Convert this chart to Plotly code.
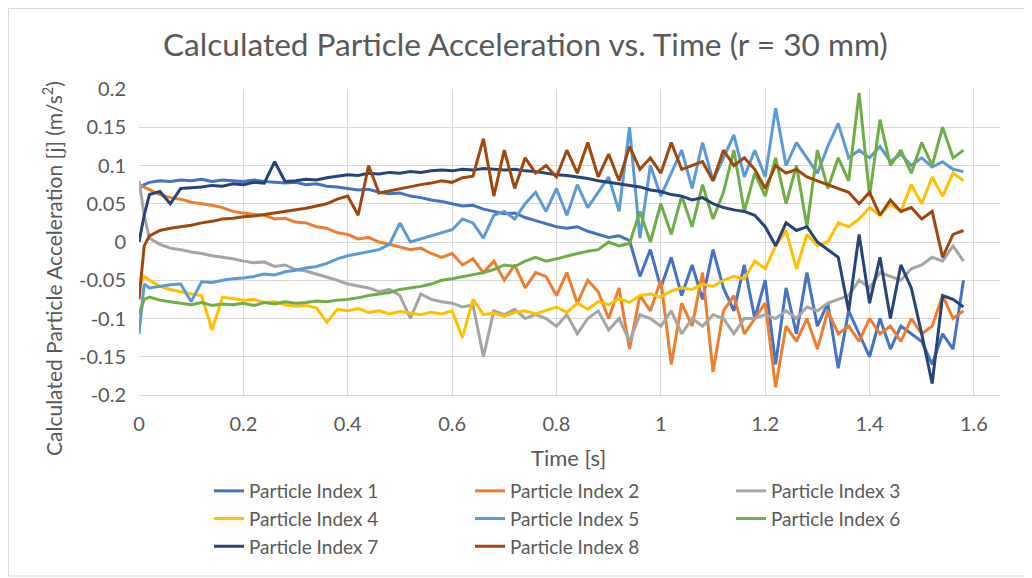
import plotly.graph_objects as go

TIME = [0.00, 0.01, 0.02, 0.04, 0.06, 0.08, 0.10, 0.12, 0.14, 0.16,
        0.18, 0.20, 0.22, 0.24, 0.26, 0.28, 0.30, 0.32, 0.34, 0.36,
        0.38, 0.40, 0.42, 0.44, 0.46, 0.48, 0.50, 0.52, 0.54, 0.56,
        0.58, 0.60, 0.62, 0.64, 0.66, 0.68, 0.70, 0.72, 0.74, 0.76,
        0.78, 0.80, 0.82, 0.84, 0.86, 0.88, 0.90, 0.92, 0.94, 0.96,
        0.98, 1.00, 1.02, 1.04, 1.06, 1.08, 1.10, 1.12, 1.14, 1.16,
        1.18, 1.20, 1.22, 1.24, 1.26, 1.28, 1.30, 1.32, 1.34, 1.36,
        1.38, 1.40, 1.42, 1.44, 1.46, 1.48, 1.50, 1.52, 1.54, 1.56,
        1.58]

P1 = [0.07, 0.075, 0.078, 0.08, 0.079, 0.081, 0.08, 0.082, 0.079, 0.081,
      0.08, 0.079, 0.081, 0.079, 0.078, 0.077, 0.078, 0.075, 0.076, 0.073,
      0.072, 0.07, 0.068, 0.069, 0.065, 0.063, 0.064, 0.06, 0.058, 0.055,
      0.053, 0.05, 0.047, 0.048, 0.043, 0.04, 0.037, 0.038, 0.032, 0.028,
      0.024, 0.02, 0.018, 0.02, 0.014, 0.01, 0.006, 0.008, 0.002, -0.045,
      -0.01, -0.06, -0.02, -0.07, -0.03, -0.075, -0.01, -0.06, -0.09, -0.03,
      -0.1, -0.05, -0.16, -0.06, -0.12, -0.04, -0.11, -0.08, -0.165, -0.09,
      -0.12, -0.15, -0.1, -0.14, -0.11, -0.12, -0.13, -0.16, -0.12, -0.14,
      -0.05]

P2 = [0.075, 0.072, 0.068, 0.062, 0.058, 0.056, 0.052, 0.05, 0.048, 0.045,
      0.04, 0.038, 0.036, 0.035, 0.03, 0.031, 0.026, 0.025, 0.02, 0.018,
      0.012, 0.01, 0.004, 0.006, 0.0, -0.003, -0.006, -0.01, -0.008, -0.015,
      -0.02, -0.015, -0.03, -0.022, -0.04, -0.025, -0.05, -0.03, -0.06, -0.04,
      -0.045, -0.07, -0.04, -0.08, -0.05, -0.065, -0.1, -0.06, -0.14, -0.07,
      -0.09, -0.05, -0.16, -0.08, -0.11, -0.04, -0.17, -0.09, -0.07, -0.12,
      -0.1, -0.08, -0.19, -0.11, -0.13, -0.1, -0.14, -0.09, -0.12, -0.11,
      -0.13, -0.1, -0.12, -0.11, -0.13, -0.1, -0.12, -0.11, -0.07, -0.1,
      -0.09]

P3 = [0.08, 0.035, 0.005, -0.003, -0.008, -0.01, -0.013, -0.015, -0.018, -0.02,
      -0.022, -0.025, -0.027, -0.026, -0.032, -0.03, -0.036, -0.038, -0.042, -0.045,
      -0.05, -0.055, -0.058, -0.06, -0.065, -0.062, -0.07, -0.1, -0.068, -0.075,
      -0.078, -0.08, -0.085, -0.082, -0.15, -0.09, -0.095, -0.088, -0.1, -0.095,
      -0.1, -0.11, -0.095, -0.12, -0.1, -0.09, -0.115, -0.1, -0.13, -0.095,
      -0.1, -0.11, -0.09, -0.12, -0.1, -0.11, -0.095, -0.1, -0.12, -0.1,
      -0.1, -0.095, -0.1, -0.09, -0.1, -0.085, -0.09, -0.08, -0.075, -0.07,
      -0.05, -0.06, -0.04, -0.045, -0.05, -0.035, -0.03, -0.02, -0.025, -0.005,
      -0.025]

P4 = [-0.06, -0.045, -0.05, -0.058, -0.062, -0.065, -0.068, -0.07, -0.115, -0.072,
      -0.074, -0.076, -0.075, -0.079, -0.078, -0.082, -0.084, -0.083, -0.086, -0.105,
      -0.088, -0.09, -0.087, -0.092, -0.09, -0.094, -0.091, -0.093, -0.095, -0.092,
      -0.094, -0.09, -0.125, -0.075, -0.095, -0.093, -0.097, -0.092, -0.09, -0.094,
      -0.09, -0.085, -0.092, -0.08, -0.088, -0.078, -0.082, -0.074, -0.079, -0.07,
      -0.068, -0.072, -0.064, -0.06, -0.062, -0.055, -0.058, -0.05, -0.045, -0.048,
      -0.025, -0.035, -0.005, 0.015, -0.035, 0.01, -0.005, 0.0, 0.025, 0.02,
      0.03, 0.045, 0.035, 0.05, 0.04, 0.075, 0.05, 0.085, 0.06, 0.09,
      0.08]

P5 = [-0.12, -0.055, -0.06, -0.058, -0.056, -0.055, -0.078, -0.052, -0.053, -0.05,
      -0.048, -0.047, -0.045, -0.042, -0.043, -0.039, -0.037, -0.034, -0.032, -0.028,
      -0.022, -0.018, -0.015, -0.012, -0.01, -0.003, 0.025, 0.0, 0.004, 0.008,
      0.012, 0.016, 0.03, 0.025, 0.005, 0.035, 0.04, 0.03, 0.05, 0.065,
      0.04, 0.07, 0.035, 0.075, 0.045, 0.065, 0.085, 0.04, 0.15, 0.005,
      0.1, 0.06, 0.09, 0.12, 0.07, 0.13, 0.08, 0.11, 0.14, 0.085,
      0.12, 0.085, 0.175, 0.1, 0.13, 0.11, 0.09, 0.125, 0.155, 0.11,
      0.12, 0.11, 0.125, 0.105, 0.115, 0.1, 0.11, 0.098, 0.105, 0.095,
      0.092]

P6 = [-0.095, -0.075, -0.072, -0.076, -0.078, -0.08, -0.082, -0.079, -0.083, -0.081,
      -0.082, -0.08, -0.083, -0.079, -0.081, -0.078, -0.08, -0.079, -0.077, -0.078,
      -0.076, -0.075, -0.073, -0.07, -0.068, -0.066, -0.062, -0.06, -0.058, -0.055,
      -0.05, -0.048, -0.045, -0.042, -0.04, -0.036, -0.03, -0.032, -0.025, -0.02,
      -0.025, -0.022, -0.018, -0.015, -0.012, -0.01, 0.0, -0.005, -0.002, 0.04,
      0.0, 0.05, 0.01, 0.06, 0.02, 0.075, 0.03, 0.065, 0.12, 0.04,
      0.09, 0.06, 0.11, 0.05, 0.1, 0.02, 0.12, 0.07, 0.11, 0.08,
      0.195, 0.06, 0.16, 0.1, 0.12, 0.09, 0.13, 0.1, 0.15, 0.11,
      0.12]

P7 = [0.0, 0.035, 0.062, 0.066, 0.05, 0.07, 0.071, 0.072, 0.074, 0.073,
      0.076, 0.075, 0.078, 0.077, 0.105, 0.079, 0.08, 0.082, 0.081, 0.084,
      0.086, 0.088, 0.087, 0.09, 0.089, 0.091, 0.09, 0.092, 0.091, 0.093,
      0.094, 0.093, 0.095, 0.094, 0.096, 0.095, 0.094, 0.095, 0.093, 0.092,
      0.09, 0.088, 0.087, 0.085, 0.083, 0.08, 0.078, 0.076, 0.074, 0.072,
      0.068, 0.066, 0.062, 0.06, 0.055, 0.058, 0.05, 0.045, 0.042, 0.04,
      0.035, 0.02, -0.005, 0.025, 0.015, 0.02, 0.0, -0.01, -0.02, -0.09,
      0.01, -0.08, -0.02, -0.1, -0.03, -0.06, -0.12, -0.185, -0.07, -0.075,
      -0.085]

P8 = [-0.075, -0.005, 0.008, 0.015, 0.018, 0.02, 0.022, 0.025, 0.027, 0.03,
      0.031, 0.033, 0.034, 0.036, 0.038, 0.04, 0.042, 0.044, 0.047, 0.05,
      0.056, 0.06, 0.035, 0.1, 0.064, 0.067, 0.07, 0.072, 0.075, 0.077,
      0.08, 0.078, 0.084, 0.086, 0.135, 0.06, 0.12, 0.07, 0.11, 0.09,
      0.1, 0.085, 0.12, 0.09, 0.13, 0.085, 0.115, 0.08, 0.125, 0.095,
      0.11, 0.09, 0.13, 0.095, 0.1, 0.105, 0.08, 0.12, 0.1, 0.11,
      0.095, 0.07, 0.1, 0.09, 0.095, 0.085, 0.08, 0.075, 0.07, 0.065,
      0.05, 0.065, 0.035, 0.055, 0.04, 0.045, 0.03, 0.04, -0.02, 0.01,
      0.015]

SERIES = [P1, P2, P3, P4, P5, P6, P7, P8]
NAMES = ["Particle Index 1", "Particle Index 2", "Particle Index 3", "Particle Index 4",
         "Particle Index 5", "Particle Index 6", "Particle Index 7", "Particle Index 8"]
COLORS = ["#4472C4", "#ED7D31", "#A5A5A5", "#FFC000", "#5B9BD5", "#70AD47", "#264478", "#9E480E"]

Y_TICKS = [-0.2, -0.15, -0.1, -0.05, 0, 0.05, 0.1, 0.15, 0.2]
Y_TICK_TEXT = ["-0.2", "-0.15", "-0.1", "-0.05", "0", "0.05", "0.1", "0.15", "0.2"]
X_TICKS = [0, 0.2, 0.4, 0.6, 0.8, 1.0, 1.2, 1.4, 1.6]
X_TICK_TEXT = ["0", "0.2", "0.4", "0.6", "0.8", "1", "1.2", "1.4", "1.6"]

TITLE = "Calculated Particle Acceleration vs. Time (r = 30 mm)"
X_TITLE = "Time [s]"
Y_TITLE = "Calculated Particle Acceleration [j] (m/s<sup>2</sup>)"

TXT = "#595959"
GRID = "#D9D9D9"
FONT = "Lato"

fig = go.Figure()
for name, vals, col in zip(NAMES, SERIES, COLORS):
    fig.add_trace(go.Scatter(x=TIME, y=vals, mode="lines", name=name,
                             line=dict(color=col, width=3)))

# the page body adds an 8 px margin; work in page pixels and subtract it
OFF = 8
PAGE_W, PAGE_H = 1032, 578
W, H = PAGE_W - OFF, PAGE_H - OFF
PLOT_L, PLOT_R, PLOT_T, PLOT_B = 139, 1000, 89, 395   # page pixels
L, T = PLOT_L - OFF, PLOT_T - OFF
R, B = W - (PLOT_R - OFF), H - (PLOT_B - OFF)
pw, ph = W - L - R, H - T - B


def px_x(p):
    return (p - OFF - L) / pw


def px_y(p):
    return (ph - (p - OFF - T)) / ph


fig.update_layout(
    width=W, height=H,
    margin=dict(l=L, r=R, t=T, b=B, autoexpand=False),
    paper_bgcolor="white", plot_bgcolor="white",
    font=dict(family=FONT, color=TXT, size=20),
    xaxis=dict(range=[0, 1.65], tickmode="array", tickvals=X_TICKS, ticktext=X_TICK_TEXT,
               showgrid=True, gridcolor=GRID, gridwidth=1, zeroline=False,
               showline=True, linecolor=GRID, linewidth=1, automargin=False,
               ticks="", ticklabelstandoff=11,
               tickfont=dict(size=20, color=TXT)),
    yaxis=dict(range=[-0.2, 0.2], tickmode="array", tickvals=Y_TICKS, ticktext=Y_TICK_TEXT,
               showgrid=True, gridcolor=GRID, gridwidth=1, zeroline=False,
               showline=False, ticks="", ticklabelstandoff=12, automargin=False,
               tickfont=dict(size=20, color=TXT)),
    legend=dict(orientation="h", x=px_x(209), xanchor="left",
                y=px_y(472), yanchor="top",
                entrywidth=216, entrywidthmode="pixels",
                font=dict(size=19, color=TXT), bgcolor="rgba(0,0,0,0)",
                tracegroupgap=0),
    showlegend=True,
)

fig.add_annotation(text=TITLE, xref="paper", yref="paper", x=px_x(525), y=px_y(44),
                   xanchor="center", yanchor="middle", showarrow=False,
                   font=dict(size=31.6, color=TXT, family=FONT))
fig.add_annotation(text=X_TITLE, xref="paper", yref="paper", x=px_x(568), y=px_y(457),
                   xanchor="center", yanchor="middle", showarrow=False,
                   font=dict(size=22, color=TXT, family=FONT))
fig.add_annotation(text=Y_TITLE, xref="paper", yref="paper", x=px_x(52), y=px_y(269),
                   xanchor="center", yanchor="middle", showarrow=False, textangle=-90,
                   font=dict(size=21, color=TXT, family=FONT))

fig.add_shape(type="rect", xref="paper", yref="paper",
              x0=px_x(OFF + 0.5), x1=px_x(PAGE_W - 3), y0=px_y(PAGE_H - 2), y1=px_y(OFF + 0.5),
              line=dict(color=GRID, width=1), fillcolor="rgba(0,0,0,0)", layer="below")

fig.write_html("out.html")
